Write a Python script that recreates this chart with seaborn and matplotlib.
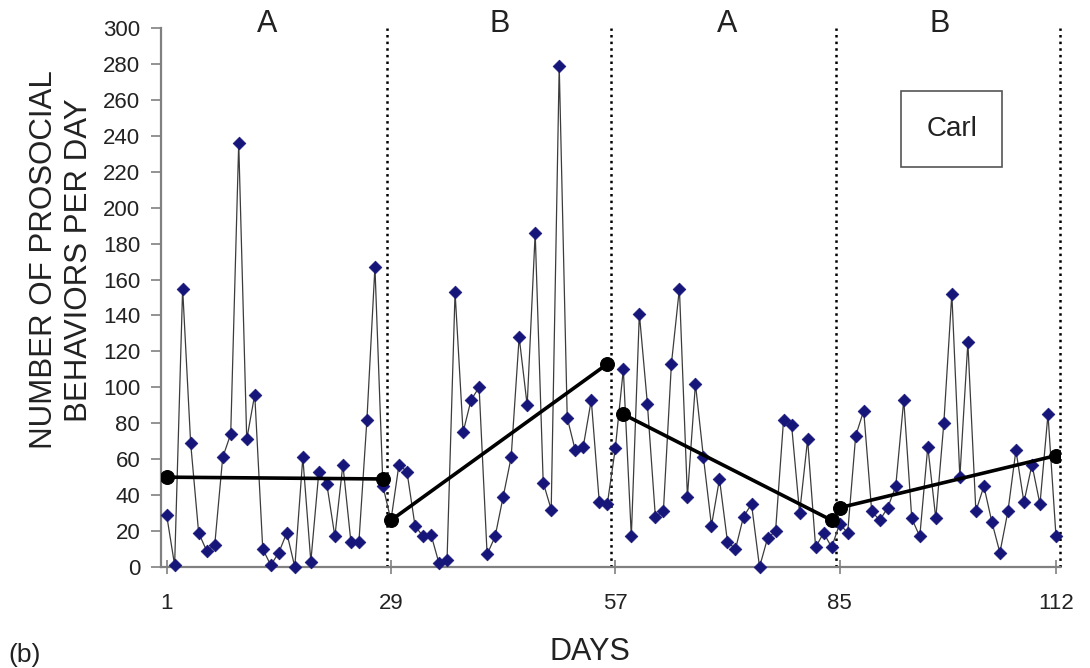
import numpy as np
import pandas as pd
import matplotlib
matplotlib.use("Agg")
import matplotlib.pyplot as plt
import seaborn as sns

# Daily counts of prosocial behaviours, one list per phase (28 days each)
phase_a1 = [29, 1, 155, 69, 19, 9, 12, 61, 74, 236, 71, 96, 10, 1,
            8, 19, 0, 61, 3, 53, 46, 17, 57, 14, 14, 82, 167, 45]
phase_b1 = [26, 57, 53, 23, 17, 18, 2, 4, 153, 75, 93, 100, 7, 17,
            39, 61, 128, 90, 186, 47, 32, 279, 83, 65, 67, 93, 36, 35]
phase_a2 = [66, 110, 17, 141, 91, 28, 31, 113, 155, 39, 102, 61, 23, 49,
            14, 10, 28, 35, 0, 16, 20, 82, 79, 30, 71, 11, 19, 11]
phase_b2 = [24, 19, 73, 87, 31, 26, 33, 45, 93, 27, 17, 67, 27, 80,
            152, 50, 125, 31, 45, 25, 8, 31, 65, 36, 57, 35, 85, 17]

counts = phase_a1 + phase_b1 + phase_a2 + phase_b2
days = np.arange(1, len(counts) + 1)

# Trend line end points per phase: (start day, end day), (start value, end value)
trend_days = [(1, 28), (29, 56), (58, 84), (85, 112)]
trend_values = [(50, 49), (26, 113), (85, 26), (33, 62)]

phase_names = ["A", "B", "A", "B"]
phase_name_x = [13.5, 42.5, 71.0, 97.5]
phase_bounds = [28.5, 56.5, 84.5, 112.5]

x_ticks = [1, 29, 57, 85, 112]
y_ticks = list(range(0, 301, 20))

sns.set_style("ticks")
plt.rcParams["font.family"] = ["Liberation Sans", "DejaVu Sans"]
text_color = "#222222"
axis_color = "#808080"

fig = plt.figure(figsize=(10.9, 6.68), dpi=100)
ax = fig.add_axes([161 / 1090, 101 / 668, 899 / 1090, 539 / 668])

df = pd.DataFrame({"day": days, "count": counts})

# daily series: thin dark line with navy diamonds
sns.lineplot(data=df, x="day", y="count", ax=ax, color="#3c3c3c",
             linewidth=0.9, zorder=2)
sns.scatterplot(data=df, x="day", y="count", ax=ax, marker="D", s=42,
                color="#16167a", edgecolor="#16167a", linewidth=0.5,
                zorder=3, clip_on=False)

# phase trend lines
for (d0, d1), (v0, v1) in zip(trend_days, trend_values):
    sns.lineplot(x=[d0, d1], y=[v0, v1], ax=ax, color="black",
                 linewidth=2.6, marker="o", markersize=10,
                 markeredgecolor="black", zorder=4)

# phase change lines
for b in phase_bounds:
    ax.axvline(b, ymin=0, ymax=1, color="black", linestyle=":",
               linewidth=1.8, zorder=1, clip_on=False)

for name, x in zip(phase_names, phase_name_x):
    ax.text(x, 302, name, ha="center", va="center", fontsize=22,
            color=text_color, clip_on=False)

ax.text(99, 244, "Carl", ha="center", va="center", fontsize=20,
        color=text_color,
        bbox=dict(boxstyle="square,pad=0.9", fc="white", ec="#555555",
                  lw=1.2))

ax.set_xlim(0.3, 112.5)
ax.set_ylim(0, 300)
ax.set_xticks(x_ticks)
ax.set_xticklabels([str(t) for t in x_ticks])
ax.set_yticks(y_ticks)

sns.despine(ax=ax)
for side in ("left", "bottom"):
    ax.spines[side].set_color(axis_color)
    ax.spines[side].set_linewidth(1.6)

ax.tick_params(axis="y", length=7, width=1.2, color=axis_color,
               labelsize=16, pad=8, labelcolor=text_color)
ax.tick_params(axis="x", direction="inout", length=10, width=1.2,
               color=axis_color, labelsize=16, pad=14,
               labelcolor=text_color)

ax.set_xlabel("DAYS", fontsize=22, color=text_color)
ax.xaxis.set_label_coords(0.477, -0.13)
ax.set_ylabel("NUMBER OF PROSOCIAL\nBEHAVIORS PER DAY", fontsize=22.5,
              color=text_color, multialignment="center")
ax.yaxis.set_label_coords(-0.075, 0.57)

fig.text(25 / 1090, 1 - 655 / 668, "(b)", ha="center", va="center",
         fontsize=19, color=text_color)

fig.savefig("out.png", dpi=100)
